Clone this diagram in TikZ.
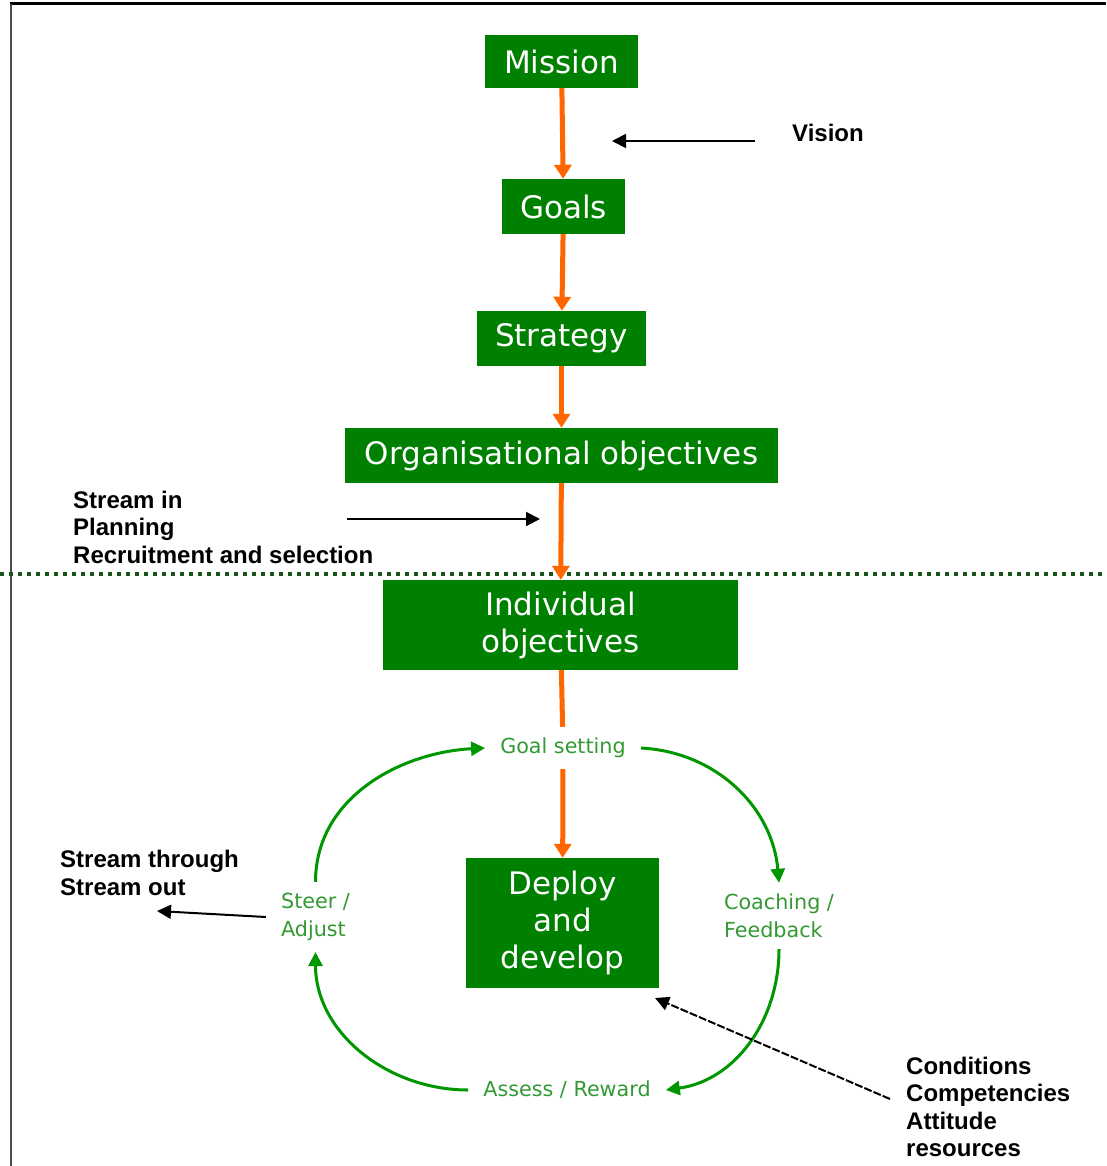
\documentclass[tikz,border=0pt]{standalone}
\usepackage{fontspec}
\setmainfont{DejaVu Sans}
\newfontfamily\notefont{Liberation Sans}
\usepackage{tikz}
\usetikzlibrary{arrows.meta,positioning}

\definecolor{boxgreen}{RGB}{0,128,0}
\definecolor{cyclegreen}{RGB}{0,150,0}
\definecolor{labelgreen}{RGB}{51,153,51}
\definecolor{flow}{RGB}{255,102,0}
\definecolor{divider}{RGB}{25,85,25}

\begin{document}
\begin{tikzpicture}[x=1pt,y=1pt,>={Triangle[length=14pt,width=14pt]},
  box/.style={fill=boxgreen,text=white,inner sep=0pt,align=center,font=\fontsize{31}{37}\selectfont},
  cyclabel/.style={text=labelgreen,align=left,inner xsep=15pt,inner ysep=11pt,font=\fontsize{20.7}{28}\selectfont},
  note/.style={align=left,inner sep=0pt,font=\notefont\bfseries\fontsize{24}{27.5}\selectfont},
  flowline/.style={flow,line width=5pt},
  flowarrow/.style={flowline,-{Triangle[length=14pt,width=17pt]}},
  cycarrow/.style={cyclegreen,line width=3pt,->},
  ptr/.style={black,line width=2pt,->}]
  \useasboundingbox (0,0) rectangle (1106,-1166);
  \draw[line width=3pt] (10,-4) -- (1106,-4);
  \draw[line width=1.5pt,black!70] (11,-4) -- (11,-1166);

  \node[box,minimum width=153pt,minimum height=53pt] (mission) at (561.5,-61.5) {Mission};
  \node[box,minimum width=123pt,minimum height=55pt] (goals) at (563.5,-206.5) {Goals};
  \node[box,minimum width=169pt,minimum height=55pt] (strategy) at (561.5,-338.5) {Strategy};
  \node[box,minimum width=433pt,minimum height=55pt] (orgobj) at (561.5,-455.5) {Organisational objectives};
  \node[box,minimum width=355pt,minimum height=90pt] (indobj) at (560.5,-625) {Individual\\objectives};
  \node[box,minimum width=193pt,minimum height=130pt] (deploy) at (562.5,-923) {Deploy\\and\\develop};

  \node[cyclabel] (goalset) at (563,-748) {Goal setting};
  \node[cyclabel] (coach) at (779,-916) {Coaching /\\Feedback};
  \node[cyclabel] (assess) at (567,-1090) {Assess / Reward};
  \node[cyclabel] (steer) at (315.5,-917) {Steer /\\Adjust};

  \node[note,anchor=west] (vision) at (792,-133) {Vision};
  \node[note,anchor=west] (streamin) at (73,-527) {Stream in\\Planning\\Recruitment and selection};
  \node[note,anchor=west] (streamout) at (60,-873) {Stream through\\Stream out};
  \node[note,anchor=west] (conditions) at (906,-1107) {Conditions\\Competencies\\Attitude\\resources};

  \coordinate (visstart) at (755,-141);
  \coordinate (vistip) at (612,-141);
  \coordinate (instart) at (347,-519);
  \coordinate (intip) at (540,-519);
  \coordinate (outtip) at (157,-911);
  \coordinate (condtip) at (655,-998);

  \draw[divider,line width=4pt,dash pattern=on 4pt off 5pt] (0,-574) -- (1106,-574);

  \draw[flowarrow] (mission) -- (goals);
  \draw[flowarrow] (goals) -- (strategy);
  \draw[flowarrow] (strategy) -- (orgobj);
  \draw[flowarrow] (orgobj) -- (indobj);
  \draw[flowline] (indobj) -- (goalset);
  \draw[flowarrow] (goalset) -- (deploy);

  \draw[cycarrow] (goalset.east) to[out=-3,in=95] (coach.north);
  \draw[cycarrow] (coach.south) to[out=-90,in=8] (assess.east);
  \draw[cycarrow] (assess.west) to[out=180,in=-90] (steer.south);
  \draw[cycarrow] (steer.north) to[out=90,in=183] (goalset.west);

  \draw[ptr] (visstart) -- (vistip);
  \draw[ptr] (instart) -- (intip);
  \draw[ptr] (steer.west) -- (outtip);
  \draw[ptr,dash pattern=on 8pt off 2pt] ([shift={(-16pt,8pt)}]conditions.west) -- (condtip);
\end{tikzpicture}
\end{document}
